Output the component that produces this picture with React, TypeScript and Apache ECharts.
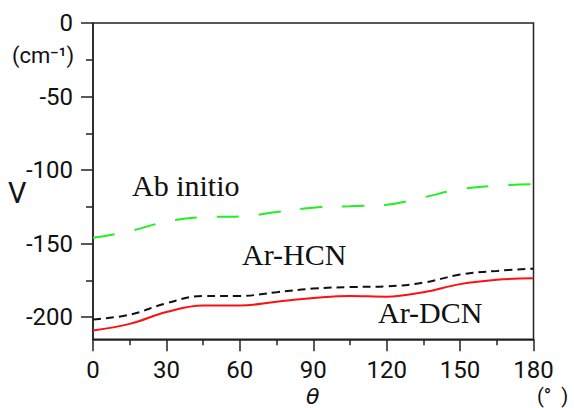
import React, { useEffect, useRef } from "react";
import * as echarts from "echarts";

const thetas = [0, 15, 30, 45, 60, 75, 90, 105, 120, 135, 150, 165, 180];
const abInitio = [-146, -141.5, -135, -132, -131.5, -128.5, -125.5, -124.5, -123.5, -118.5, -113, -110.5, -109.5];
const arHCN = [-201.5, -198.3, -190.5, -185.5, -185.5, -183, -180.5, -179.5, -179, -176.5, -171, -168.5, -167];
const arDCN = [-209, -204.5, -196.5, -192, -192, -189.5, -187, -185.5, -186, -183, -177.5, -174.5, -173.5];
const yMajor = [0, -50, -100, -150, -200];
const yMinor = [-25, -75, -125, -175];

const pair = (ys: number[]) => thetas.map((t, i) => [t, ys[i]]);

export default function App() {
  const ref = useRef<HTMLDivElement>(null);
  useEffect(() => {
    const chart = echarts.init(ref.current!, null, { renderer: "svg" });
    const axisColor = "#222";
    const labelFont = { fontFamily: "Roboto", fontSize: 24, color: "#111" };
    chart.setOption({
      animation: false,
      backgroundColor: "#fff",
      grid: { left: 93, right: 40.5, top: 23, bottom: 68.7, show: true, borderColor: axisColor, borderWidth: 1.5 },
      xAxis: {
        type: "value", min: 0, max: 180, interval: 30,
        axisLine: { show: true, onZero: false, lineStyle: { color: axisColor, width: 1.5 } },
        axisTick: { show: true, length: 12, lineStyle: { color: axisColor, width: 1.5 } },
        minorTick: { show: true, splitNumber: 2, length: 6, lineStyle: { color: axisColor, width: 1.5 } },
        axisLabel: { ...labelFont, margin: 19 },
        splitLine: { show: false },
      },
      yAxis: [
        {
          type: "value", min: -215, max: 0,
          axisLine: { show: true, onZero: false, lineStyle: { color: axisColor, width: 1.5 } },
          axisTick: { show: true, length: 12, customValues: yMajor, lineStyle: { color: axisColor, width: 1.5 } },
          axisLabel: { ...labelFont, margin: 20, customValues: yMajor },
          splitLine: { show: false },
        },
        {
          type: "value", min: -215, max: 0, position: "left",
          axisLine: { show: false },
          axisTick: { show: true, length: 7, customValues: yMinor, lineStyle: { color: axisColor, width: 1.5 } },
          axisLabel: { show: false },
          splitLine: { show: false },
        },
      ],
      series: [
        { type: "line", data: pair(abInitio), smooth: 0.4, showSymbol: false, lineStyle: { color: "#22ee22", width: 2, type: [22, 20] } },
        { type: "line", data: pair(arHCN), smooth: 0.4, showSymbol: false, lineStyle: { color: "#111", width: 2, type: [8, 5] } },
        { type: "line", data: pair(arDCN), smooth: 0.4, showSymbol: false, lineStyle: { color: "#ff1010", width: 2 } },
      ],
      graphic: [
        { type: "text", left: 132, top: 170, style: { text: "Ab initio", font: "30px 'Liberation Serif'", fill: "#111" } },
        { type: "text", left: 242, top: 239, style: { text: "Ar-HCN", font: "30px 'Liberation Serif'", fill: "#111" } },
        { type: "text", left: 378, top: 297, style: { text: "Ar-DCN", font: "30px 'Liberation Serif'", fill: "#111" } },
        { type: "text", left: 8, top: 178, style: { text: "V", font: "29px Roboto", fill: "#111" } },
        { type: "text", left: 12, top: 44, style: { text: "(cm\u207B\u00B9)", font: "22px Roboto", fill: "#111" } },
        { type: "text", left: 306, top: 385, style: { text: "\u03B8", font: "italic 22px 'DejaVu Sans'", fill: "#111" } },
        { type: "text", left: 537, top: 386, style: { text: "(\u00B0  )", font: "20px Roboto", fill: "#111" } },
      ],
    });
    return () => chart.dispose();
  }, []);
  return <div ref={ref} style={{ width: 574, height: 408, position: "absolute", left: 0, top: 0 }} />;
}
